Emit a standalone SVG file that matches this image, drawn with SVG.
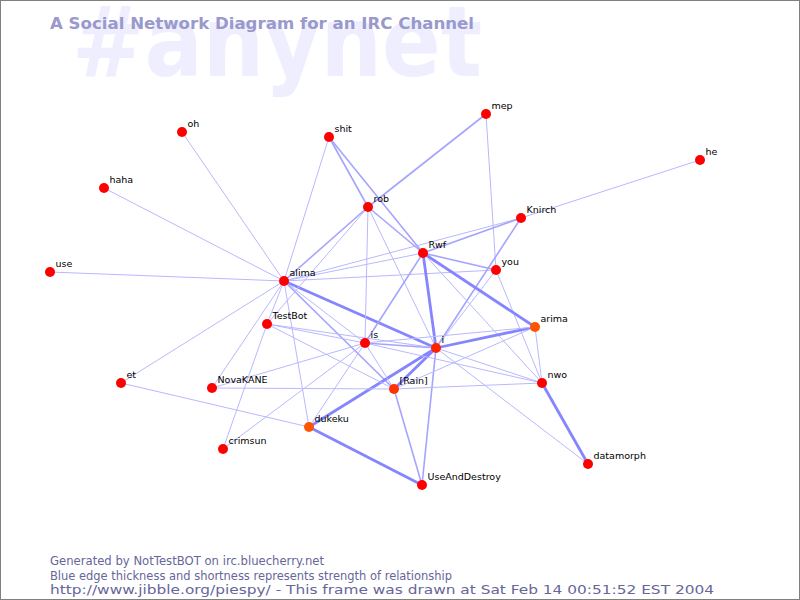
<svg xmlns="http://www.w3.org/2000/svg" width="800" height="600" viewBox="0 0 800 600">
<style>
.bg{fill:#ffffff;stroke:#808080;stroke-width:1}
.wm{font-family:"DejaVu Sans",sans-serif;font-weight:bold;font-size:98px;fill:#eeeeff}
.title{font-family:"DejaVu Sans",sans-serif;font-weight:bold;font-size:16.5px;fill:#9999cc}
.foot{font-family:"DejaVu Sans",sans-serif;font-size:11.5px;fill:#666699}
.lbl{font-family:"DejaVu Sans",sans-serif;font-size:9.5px;fill:#000000}
.n{fill:#ff0000}
.o{fill:#ff5500}
.e1{stroke:#b8b8ff;stroke-width:1;fill:none}
.e2{stroke:#a4a4ff;stroke-width:1.6;fill:none}
.e3{stroke:#8585ff;stroke-width:2.8;fill:none}
</style>
<rect class="bg" x="0.5" y="0.5" width="799" height="599"/>
<text class="wm" x="72" y="76" textLength="410" lengthAdjust="spacingAndGlyphs">#anynet</text>
<text class="title" x="50" y="29" textLength="424" lengthAdjust="spacingAndGlyphs">A Social Network Diagram for an IRC Channel</text>
<g id="edges">
<line class="e1" x1="284" y1="281" x2="182" y2="132"/>
<line class="e1" x1="284" y1="281" x2="104" y2="188"/>
<line class="e1" x1="284" y1="281" x2="50" y2="272"/>
<line class="e1" x1="284" y1="281" x2="329" y2="137"/>
<line class="e2" x1="284" y1="281" x2="368" y2="207"/>
<line class="e1" x1="284" y1="281" x2="423" y2="253"/>
<line class="e1" x1="284" y1="281" x2="521" y2="218"/>
<line class="e1" x1="284" y1="281" x2="496" y2="270"/>
<line class="e3" x1="284" y1="281" x2="436" y2="348"/>
<line class="e2" x1="284" y1="281" x2="394" y2="389"/>
<line class="e1" x1="284" y1="281" x2="365" y2="343"/>
<line class="e1" x1="284" y1="281" x2="267" y2="324"/>
<line class="e1" x1="284" y1="281" x2="212" y2="388"/>
<line class="e1" x1="284" y1="281" x2="121" y2="383"/>
<line class="e1" x1="284" y1="281" x2="309" y2="427"/>
<line class="e2" x1="329" y1="137" x2="368" y2="207"/>
<line class="e2" x1="329" y1="137" x2="423" y2="253"/>
<line class="e2" x1="368" y1="207" x2="486" y2="114"/>
<line class="e2" x1="368" y1="207" x2="423" y2="253"/>
<line class="e1" x1="368" y1="207" x2="365" y2="343"/>
<line class="e1" x1="368" y1="207" x2="436" y2="348"/>
<line class="e1" x1="368" y1="207" x2="267" y2="324"/>
<line class="e1" x1="486" y1="114" x2="496" y2="270"/>
<line class="e1" x1="700" y1="160" x2="521" y2="218"/>
<line class="e2" x1="521" y1="218" x2="423" y2="253"/>
<line class="e2" x1="521" y1="218" x2="436" y2="348"/>
<line class="e1" x1="496" y1="270" x2="436" y2="348"/>
<line class="e1" x1="496" y1="270" x2="542" y2="383"/>
<line class="e2" x1="423" y1="253" x2="496" y2="270"/>
<line class="e3" x1="423" y1="253" x2="535" y2="327"/>
<line class="e3" x1="423" y1="253" x2="436" y2="348"/>
<line class="e1" x1="423" y1="253" x2="542" y2="383"/>
<line class="e2" x1="423" y1="253" x2="365" y2="343"/>
<line class="e3" x1="436" y1="348" x2="535" y2="327"/>
<line class="e1" x1="436" y1="348" x2="542" y2="383"/>
<line class="e3" x1="436" y1="348" x2="394" y2="389"/>
<line class="e3" x1="436" y1="348" x2="309" y2="427"/>
<line class="e2" x1="436" y1="348" x2="422" y2="485"/>
<line class="e1" x1="436" y1="348" x2="588" y2="464"/>
<line class="e2" x1="436" y1="348" x2="365" y2="343"/>
<line class="e1" x1="436" y1="348" x2="267" y2="324"/>
<line class="e1" x1="267" y1="324" x2="365" y2="343"/>
<line class="e1" x1="267" y1="324" x2="394" y2="389"/>
<line class="e1" x1="267" y1="324" x2="223" y2="449"/>
<line class="e1" x1="365" y1="343" x2="535" y2="327"/>
<line class="e1" x1="365" y1="343" x2="394" y2="389"/>
<line class="e1" x1="365" y1="343" x2="212" y2="388"/>
<line class="e1" x1="365" y1="343" x2="309" y2="427"/>
<line class="e1" x1="365" y1="343" x2="223" y2="449"/>
<line class="e1" x1="365" y1="343" x2="542" y2="383"/>
<line class="e1" x1="212" y1="388" x2="394" y2="389"/>
<line class="e1" x1="121" y1="383" x2="309" y2="427"/>
<line class="e3" x1="309" y1="427" x2="422" y2="485"/>
<line class="e2" x1="394" y1="389" x2="422" y2="485"/>
<line class="e1" x1="394" y1="389" x2="535" y2="327"/>
<line class="e1" x1="394" y1="389" x2="542" y2="383"/>
<line class="e1" x1="535" y1="327" x2="542" y2="383"/>
<line class="e3" x1="542" y1="383" x2="588" y2="464"/>
</g>
<g id="node-oh"><circle class="n" cx="182" cy="132" r="5"/><text class="lbl" x="187.5" y="127">oh</text></g>
<g id="node-shit"><circle class="n" cx="329" cy="137" r="5"/><text class="lbl" x="334.5" y="132">shit</text></g>
<g id="node-mep"><circle class="n" cx="486" cy="114" r="5"/><text class="lbl" x="491.5" y="109">mep</text></g>
<g id="node-he"><circle class="n" cx="700" cy="160" r="5"/><text class="lbl" x="705.5" y="155">he</text></g>
<g id="node-haha"><circle class="n" cx="104" cy="188" r="5"/><text class="lbl" x="109.5" y="183">haha</text></g>
<g id="node-rob"><circle class="n" cx="368" cy="207" r="5"/><text class="lbl" x="373.5" y="202">rob</text></g>
<g id="node-Knirch"><circle class="n" cx="521" cy="218" r="5"/><text class="lbl" x="526.5" y="213">Knirch</text></g>
<g id="node-Rwf"><circle class="n" cx="423" cy="253" r="5"/><text class="lbl" x="428.5" y="248">Rwf</text></g>
<g id="node-you"><circle class="n" cx="496" cy="270" r="5"/><text class="lbl" x="501.5" y="265">you</text></g>
<g id="node-use"><circle class="n" cx="50" cy="272" r="5"/><text class="lbl" x="55.5" y="267">use</text></g>
<g id="node-alima"><circle class="n" cx="284" cy="281" r="5"/><text class="lbl" x="289.5" y="276">alima</text></g>
<g id="node-TestBot"><circle class="n" cx="267" cy="324" r="5"/><text class="lbl" x="272.5" y="319">TestBot</text></g>
<g id="node-arima"><circle class="o" cx="535" cy="327" r="5"/><text class="lbl" x="540.5" y="322">arima</text></g>
<g id="node-is"><circle class="n" cx="365" cy="343" r="5"/><text class="lbl" x="370.5" y="338">is</text></g>
<g id="node-i"><circle fill="#ff2200" cx="436" cy="348" r="5"/><text class="lbl" x="441.5" y="343">i</text></g>
<g id="node-et"><circle class="n" cx="121" cy="383" r="5"/><text class="lbl" x="126.5" y="378">et</text></g>
<g id="node-NovaKANE"><circle class="n" cx="212" cy="388" r="5"/><text class="lbl" x="217.5" y="383">NovaKANE</text></g>
<g id="node-nwo"><circle class="n" cx="542" cy="383" r="5"/><text class="lbl" x="547.5" y="378">nwo</text></g>
<g id="node-Rain"><circle fill="#ff3300" cx="394" cy="389" r="5"/><text class="lbl" x="399.5" y="384">[Rain]</text></g>
<g id="node-dukeku"><circle class="o" cx="309" cy="427" r="5"/><text class="lbl" x="314.5" y="422">dukeku</text></g>
<g id="node-crimsun"><circle class="n" cx="223" cy="449" r="5"/><text class="lbl" x="228.5" y="444">crimsun</text></g>
<g id="node-datamorph"><circle class="n" cx="588" cy="464" r="5"/><text class="lbl" x="593.5" y="459">datamorph</text></g>
<g id="node-UseAndDestroy"><circle class="n" cx="422" cy="485" r="5"/><text class="lbl" x="427.5" y="480">UseAndDestroy</text></g>
<text class="foot" x="50" y="565" textLength="274" lengthAdjust="spacingAndGlyphs">Generated by NotTestBOT on irc.bluecherry.net</text>
<text class="foot" x="50" y="579.5" textLength="402" lengthAdjust="spacingAndGlyphs">Blue edge thickness and shortness represents strength of relationship</text>
<text class="foot" x="50" y="594" textLength="664" lengthAdjust="spacingAndGlyphs">http://www.jibble.org/piespy/ - This frame was drawn at Sat Feb 14 00:51:52 EST 2004</text>
</svg>
